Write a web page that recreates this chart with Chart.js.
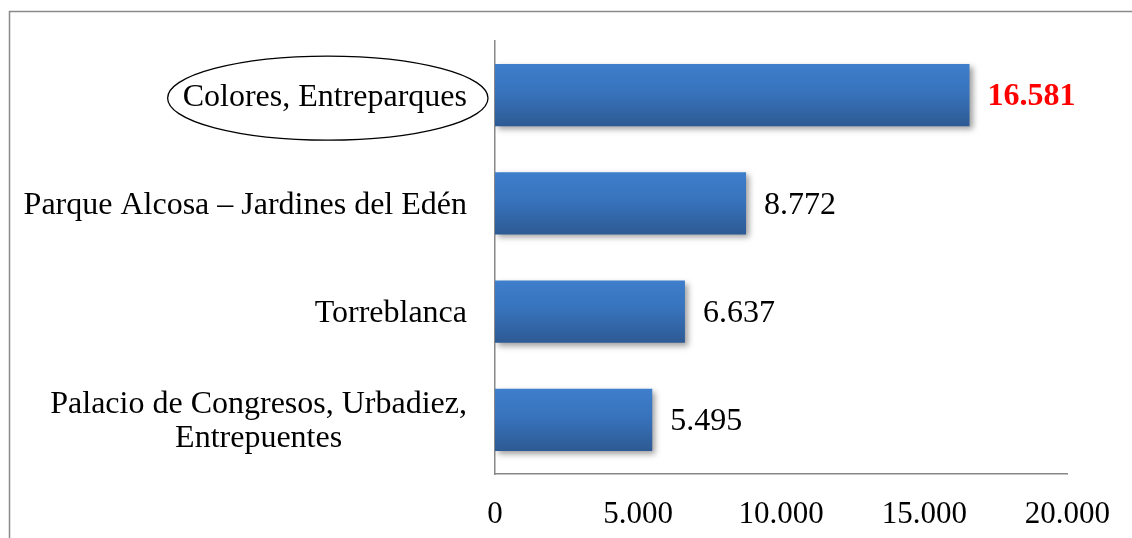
<!DOCTYPE html>
<html>
<head>
<meta charset="utf-8">
<script src="https://cdn.jsdelivr.net/npm/chart.js@4.4.1/dist/chart.umd.min.js"></script>
<style>
  html, body { margin: 0; padding: 0; background: #ffffff; }
  #c { display: block; }
</style>
</head>
<body>
<canvas id="c" width="1132" height="538"></canvas>
<script>
const categories = [
  ["Colores, Entreparques"],
  ["Parque Alcosa \u2013 Jardines del Ed\u00e9n"],
  ["Torreblanca"],
  ["Palacio de Congresos, Urbadiez,", "Entrepuentes"]
];
const values = [16581, 8772, 6637, 5495];
const xTicks = [0, 5000, 10000, 15000, 20000];
const highlightIndex = 0;

const FONT = '"Liberation Serif", "Times New Roman", serif';
const FS = 31;
const CAT_FS = 32;

function fmt(n) {
  return String(Math.round(n)).replace(/\B(?=(\d{3})+(?!\d))/g, '.');
}

const framePlugin = {
  id: 'frame',
  beforeDraw(chart) {
    const ctx = chart.ctx;
    ctx.save();
    ctx.strokeStyle = '#8a8a8a';
    ctx.lineWidth = 1.5;
    ctx.strokeRect(9.5, 11.5, 3000, 3000);
    ctx.restore();
  }
};

const barStylePlugin = {
  id: 'barStyle',
  beforeDatasetsDraw(chart) {
    const ctx = chart.ctx;
    const meta = chart.getDatasetMeta(0);
    meta.data.forEach(bar => {
      const top = bar.y - bar.height / 2;
      const bot = bar.y + bar.height / 2;
      const g = ctx.createLinearGradient(0, top, 0, bot);
      g.addColorStop(0, '#3e7ecb');
      g.addColorStop(0.45, '#3873bd');
      g.addColorStop(1, '#2d5a93');
      bar.options = Object.assign({}, bar.options, { backgroundColor: g });
    });
    ctx.save();
    ctx.shadowColor = 'rgba(0,0,0,0.38)';
    ctx.shadowBlur = 6;
    ctx.shadowOffsetX = 3;
    ctx.shadowOffsetY = 3;
  },
  afterDatasetsDraw(chart) {
    chart.ctx.restore();
  }
};

const labelPlugin = {
  id: 'labels',
  afterDraw(chart) {
    const ctx = chart.ctx;
    const yScale = chart.scales.y;
    const area = chart.chartArea;
    ctx.save();
    ctx.fillStyle = '#000000';
    ctx.textBaseline = 'middle';
    ctx.font = CAT_FS + 'px ' + FONT;
    const rightX = area.left - 28;
    const lineH = 34;
    categories.forEach((lines, i) => {
      const y = yScale.getPixelForTick(i) + 2;
      const widths = lines.map(l => ctx.measureText(l).width);
      const w = Math.max(...widths);
      const cx = rightX - w / 2;
      const y0 = y - (lines.length - 1) * lineH / 2;
      ctx.textAlign = 'center';
      lines.forEach((l, k) => ctx.fillText(l, cx, y0 + k * lineH));
      if (i === highlightIndex) {
        ctx.beginPath();
        ctx.ellipse(cx + 3, y + 1, w / 2 + 18, 42, 0, 0, Math.PI * 2);
        ctx.strokeStyle = '#000000';
        ctx.lineWidth = 1.3;
        ctx.stroke();
      }
    });
    // value labels
    const meta = chart.getDatasetMeta(0);
    ctx.textAlign = 'left';
    meta.data.forEach((bar, i) => {
      if (i === highlightIndex) {
        ctx.font = 'bold ' + CAT_FS + 'px ' + FONT;
        ctx.fillStyle = '#ff0000';
      } else {
        ctx.font = CAT_FS + 'px ' + FONT;
        ctx.fillStyle = '#000000';
      }
      ctx.fillText(fmt(values[i]), bar.x + 18, bar.y + 2);
    });
    ctx.restore();
  }
};

new Chart(document.getElementById('c'), {
  type: 'bar',
  data: {
    labels: categories,
    datasets: [{
      data: values,
      backgroundColor: '#3872bb',
      borderWidth: 0,
      barPercentage: 0.573,
      categoryPercentage: 1
    }]
  },
  options: {
    indexAxis: 'y',
    responsive: false,
    animation: false,
    devicePixelRatio: 1,
    layout: { padding: { left: 0, top: 41, right: 56, bottom: 0 } },
    plugins: {
      legend: { display: false },
      tooltip: { enabled: false }
    },
    scales: {
      x: {
        min: 0,
        max: 20000,
        afterBuildTicks(scale) {
          scale.ticks = xTicks.map(v => ({ value: v }));
        },
        afterFit(scale) { scale.height = 64; },
        grid: { display: false, drawTicks: false },
        border: { display: true, color: '#888888', width: 1.5 },
        ticks: {
          color: '#000000',
          font: { family: FONT, size: FS },
          padding: 22,
          maxRotation: 0,
          callback: (v) => fmt(v)
        }
      },
      y: {
        afterFit(scale) { scale.width = 495; },
        grid: { display: false, drawTicks: false },
        border: { display: true, color: '#888888', width: 1.5 },
        ticks: { display: false }
      }
    }
  },
  plugins: [framePlugin, barStylePlugin, labelPlugin]
});
</script>
</body>
</html>
